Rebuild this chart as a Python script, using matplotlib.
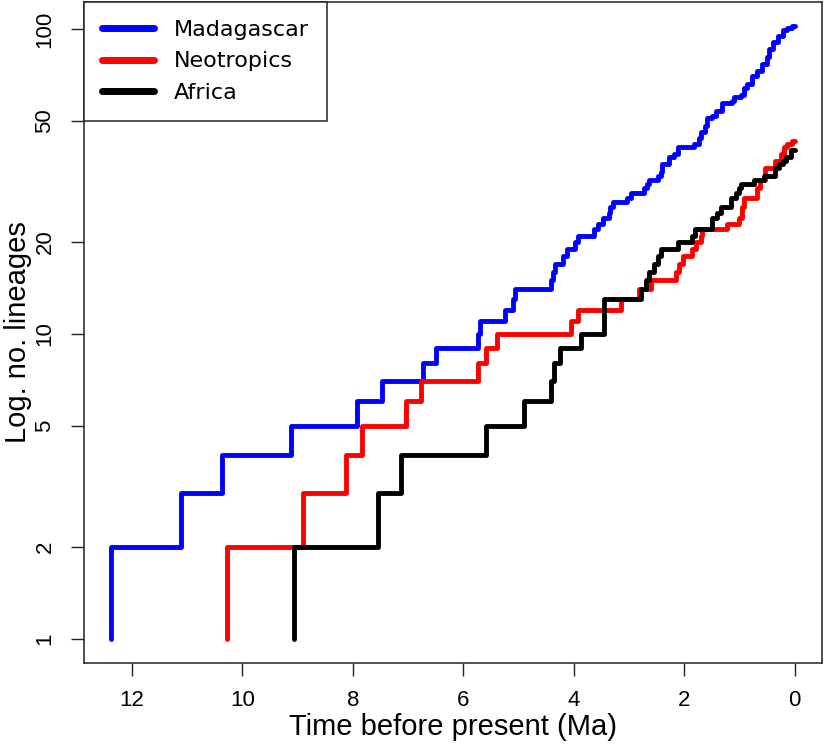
import matplotlib
matplotlib.use('Agg')
import matplotlib.pyplot as plt
import numpy as np

# branching times (Ma before present) and lineage count after each event
mad_times = [12.37, 11.11, 10.36, 9.12, 7.92, 7.47, 6.72, 6.49, 5.74, 5.69,
             5.25, 5.09, 5.06, 4.41, 4.37, 4.34, 4.19, 4.13, 3.98, 3.92,
             3.63, 3.56, 3.47, 3.37, 3.35, 3.28, 3.03, 2.97, 2.72, 2.67,
             2.63, 2.48, 2.42, 2.40, 2.27, 2.18, 2.12, 1.82, 1.73, 1.69,
             1.62, 1.58, 1.49, 1.43, 1.32, 1.13, 1.10, 0.98, 0.92, 0.86,
             0.77, 0.68, 0.59, 0.50, 0.46, 0.40, 0.31, 0.22, 0.13, 0.04]
mad_counts = [2, 3, 4, 5, 6, 7, 8, 9, 10, 11,
              12, 13, 14, 15, 16, 17, 18, 19, 20, 21,
              22, 23, 24, 25, 26, 27, 28, 29, 30, 31,
              32, 33, 34, 36, 38, 39, 41, 42, 44, 46,
              48, 51, 52, 54, 57, 58, 60, 61, 64, 66,
              70, 73, 77, 81, 86, 91, 95, 99, 101, 102]

neo_times = [10.28, 8.90, 8.12, 7.84, 7.03, 6.76, 5.73, 5.58, 5.38, 4.04,
             3.92, 3.14, 2.81, 2.60, 2.15, 2.09, 2.03, 1.85, 1.79, 1.70,
             1.67, 1.22, 1.01, 0.95, 0.92, 0.68, 0.62, 0.54, 0.35, 0.25,
             0.19, 0.13, 0.04]
neo_counts = [2, 3, 4, 5, 6, 7, 8, 9, 10, 11,
              12, 13, 14, 15, 16, 17, 18, 19, 20, 21,
              22, 23, 24, 26, 28, 30, 32, 35, 37, 39,
              41, 42, 43]

afr_times = [9.07, 7.55, 7.13, 5.58, 4.90, 4.42, 4.36, 4.24, 3.86, 3.46,
             2.78, 2.69, 2.63, 2.54, 2.48, 2.42, 2.12, 1.85, 1.81, 1.49,
             1.40, 1.34, 1.16, 1.07, 1.01, 0.98, 0.74, 0.55, 0.35, 0.28,
             0.22, 0.16, 0.07]
afr_counts = [2, 3, 4, 5, 6, 7, 8, 9, 10, 13,
              14, 15, 16, 17, 18, 19, 20, 21, 22, 24,
              25, 26, 28, 29, 30, 31, 32, 33, 35, 36,
              37, 38, 40]

labels = ['Madagascar', 'Neotropics', 'Africa']
colors = ['#0000ff', '#ff0000', '#000000']
x_ticks = [12, 10, 8, 6, 4, 2, 0]
y_ticks = [1, 2, 5, 10, 20, 50, 100]

tick_font = 'Liberation Sans'
W, H = 827, 744

fig = plt.figure(figsize=(W / 100, H / 100), dpi=100)
ax = fig.add_axes([84 / W, 1 - 663 / H, (822 - 84) / W, (663 - 2) / H])


def ltt_line(times, counts, color, label):
    # start at the root with one lineage, step up at each branching, run to present
    xs = [times[0]] + list(times) + [0.0]
    ys = [1] + list(counts) + [counts[-1]]
    ax.plot(xs, ys, drawstyle='steps-post', color=color, lw=3.5,
            solid_capstyle='round', solid_joinstyle='round', label=label)


ltt_line(mad_times, mad_counts, colors[0], labels[0])
ltt_line(neo_times, neo_counts, colors[1], labels[1])
ltt_line(afr_times, afr_counts, colors[2], labels[2])

ax.set_yscale('log')
# R style 4% padding
root = max(mad_times[0], neo_times[0], afr_times[0])
xpad = 0.04 * root
ax.set_xlim(root + xpad, -xpad)
top = np.log10(max(mad_counts + neo_counts + afr_counts))
ypad = 0.04 * top
ax.set_ylim(10 ** (-ypad), 10 ** (top + ypad))

ax.set_xticks(x_ticks)
ax.set_xticklabels([str(t) for t in x_ticks], fontsize=16, family=tick_font)
ax.set_yticks(y_ticks)
ax.yaxis.set_minor_locator(matplotlib.ticker.NullLocator())
ax.set_yticklabels([str(t) for t in y_ticks], fontsize=16, family=tick_font,
                   rotation=90, va='center')
ax.tick_params(direction='out', length=9.5, width=1.0, color='#222222')
ax.tick_params(axis='x', pad=10)
ax.tick_params(axis='y', pad=11)
for s in ax.spines.values():
    s.set_linewidth(1.1)
    s.set_color('#222222')

ax.set_xlabel('Time before present (Ma)', fontsize=21, family=tick_font)
ax.xaxis.label.set_va('center')
ax.xaxis.set_label_coords(0.5, (663 - 727) / 661)
ax.set_ylabel('Log. no. lineages', fontsize=21, family=tick_font)
ax.yaxis.label.set_va('center')
ax.yaxis.set_label_coords((18 - 84) / 738, 0.5)

leg = ax.legend(loc='upper left', bbox_to_anchor=(0, 1), borderaxespad=0,
                fancybox=False, framealpha=1, edgecolor='#222222',
                prop={'family': 'DejaVu Sans', 'size': 16},
                handlelength=2.35, handletextpad=0.9, labelspacing=0.52,
                borderpad=0.8)
leg.get_frame().set_linewidth(1.1)
for h in leg.get_lines():
    h.set_linewidth(5)

fig.savefig('out.png', dpi=100)
